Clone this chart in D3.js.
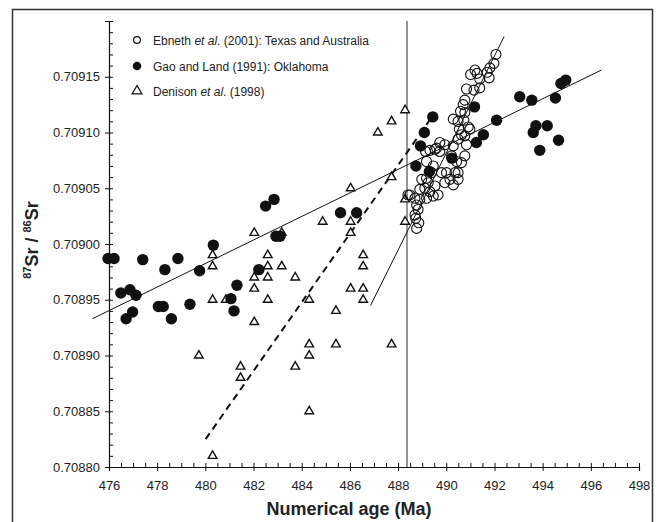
<!DOCTYPE html>
<html>
<head>
<meta charset="utf-8">
<script src="https://cdn.jsdelivr.net/npm/d3@7"></script>
<style>
  body { margin: 0; background: #fff; }
  svg text { font-family: "Liberation Sans", Arial, sans-serif; }
  .tick text { fill: #222; font-size: 13px; }
  .axis path, .axis line { stroke: #111; }
</style>
</head>
<body>
<svg id="chart" width="659" height="522"></svg>
<script>
// Ebneth et al. (2001): Texas and Australia (open circles)
var ebnethAge = [492.06, 491.98, 491.81, 491.70, 491.19, 491.28, 491.01, 491.39, 491.78, 491.39,
    491.15, 490.84, 490.70, 490.59, 490.77, 490.29, 490.73, 490.91, 490.98, 490.54,
    490.77, 490.49, 490.84, 489.73, 489.60, 490.29, 489.32, 489.14, 489.94, 490.63,
    490.22, 490.43, 490.63, 490.77, 490.36, 490.15, 489.94, 490.49, 490.29, 489.80,
    489.39, 489.18, 488.98, 489.25, 489.53, 489.32, 489.11, 488.90, 489.66, 488.49,
    488.70, 488.90, 489.18, 489.46, 488.77, 488.83, 488.70, 488.73, 488.86, 488.77,
    489.18, 489.46, 490.01, 490.49, 488.41, 489.73, 489.53, 490.77, 490.49];
var ebnethSr = [0.709170, 0.709162, 0.709158, 0.709154, 0.709156, 0.709153, 0.709152, 0.709148, 0.709149, 0.709140,
    0.709138, 0.709139, 0.709125, 0.709119, 0.709118, 0.709112, 0.709111, 0.709105, 0.709103, 0.709103,
    0.709097, 0.709094, 0.709089, 0.709091, 0.709086, 0.709088, 0.709084, 0.709083, 0.709089, 0.709098,
    0.709079, 0.709074, 0.709073, 0.709079, 0.709064, 0.709058, 0.709055, 0.709058, 0.709053, 0.709064,
    0.709064, 0.709059, 0.709058, 0.709055, 0.709052, 0.709047, 0.709050, 0.709049, 0.709044, 0.709044,
    0.709041, 0.709040, 0.709041, 0.709043, 0.709035, 0.709031, 0.709026, 0.709023, 0.709019, 0.709014,
    0.709074, 0.709070, 0.709064, 0.709064, 0.709044, 0.709083, 0.709085, 0.709129, 0.709110];

// Gao and Land (1991): Oklahoma (filled circles)
var gaoAge = [475.96, 476.21, 477.40, 478.32, 478.86, 479.76, 480.33, 476.49, 476.87, 477.12,
    476.71, 476.98, 478.05, 478.25, 478.59, 479.36, 481.31, 481.06, 481.19, 482.22,
    482.50, 482.85, 482.93, 483.10, 485.61, 486.28, 489.44, 489.09, 488.93, 488.74,
    491.17, 492.09, 491.54, 491.25, 493.05, 493.55, 494.53, 494.76, 494.96, 493.72,
    494.19, 493.61, 494.66, 493.88, 490.23, 489.30];
var gaoSr = [0.708987, 0.708987, 0.708986, 0.708977, 0.708987, 0.708976, 0.708999, 0.708956, 0.708959, 0.708954,
    0.708933, 0.708939, 0.708944, 0.708944, 0.708933, 0.708946, 0.708963, 0.708951, 0.708940, 0.708977,
    0.709034, 0.709040, 0.709007, 0.709007, 0.709028, 0.709028, 0.709114, 0.709100, 0.709088, 0.709070,
    0.709123, 0.709111, 0.709098, 0.709091, 0.709132, 0.709129, 0.709131, 0.709144, 0.709147, 0.709106,
    0.709106, 0.709100, 0.709093, 0.709084, 0.709077, 0.709065];

// Denison et al. (1998) (open triangles)
var denisonAge = [479.73, 480.30, 480.30, 480.30, 480.30, 480.85, 481.46, 481.46, 482.03, 482.03,
    482.03, 482.03, 482.59, 482.59, 482.59, 482.59, 483.17, 483.17, 483.73, 483.73,
    484.31, 484.31, 484.31, 484.31, 484.87, 485.42, 485.42, 486.03, 486.03, 486.03,
    486.03, 486.55, 486.55, 486.55, 486.55, 487.16, 487.73, 487.73, 487.73, 488.29,
    488.29, 488.29];
var denisonSr = [0.70890, 0.70899, 0.70898, 0.70895, 0.70881, 0.70895, 0.70889, 0.70888, 0.70901, 0.70897,
    0.70896, 0.70893, 0.70899, 0.70898, 0.70897, 0.70895, 0.70901, 0.70898, 0.70897, 0.70889,
    0.70895, 0.70891, 0.70890, 0.70885, 0.70902, 0.70894, 0.70891, 0.70905, 0.70902, 0.70901,
    0.70896, 0.70899, 0.70898, 0.70896, 0.70895, 0.70910, 0.70911, 0.70906, 0.70891, 0.70912,
    0.70904, 0.70902];

// regression lines (end points)
var gaoFitAge = [475.31, 496.44];
var gaoFitSr = [0.708933, 0.709156];
var ebnethFitAge = [486.86, 492.40];
var ebnethFitSr = [0.708945, 0.709186];
var denisonFitAge = [480.01, 489.44];
var denisonFitSr = [0.708825, 0.709115];
var boundaryAge = 488.37;

var xTicks = d3.range(476, 498.1, 2);
var yTicks = [0.70880, 0.70885, 0.70890, 0.70895, 0.70900, 0.70905, 0.70910, 0.70915, 0.70920];

var legendLabels = [
    ['Ebneth ', 'et al', '. (2001): Texas and Australia'],
    ['Gao and Land (1991): Oklahoma', '', ''],
    ['Denison ', 'et al', '. (1998)']
];

var svg = d3.select('#chart');
var x = d3.scaleLinear().domain([476, 498]).range([109, 639]);
var y = d3.scaleLinear().domain([0.7088, 0.7092]).range([467, 21]);

// frame
svg.append('rect')
    .attr('x', 12.5).attr('y', 9.5)
    .attr('width', 640).attr('height', 530)
    .attr('fill', 'none')
    .attr('stroke', '#333')
    .attr('stroke-width', 1.5);

// boundary
svg.append('line')
    .attr('x1', x(boundaryAge)).attr('x2', x(boundaryAge))
    .attr('y1', y(0.70920)).attr('y2', y(0.7088))
    .attr('stroke', '#7a7a7a')
    .attr('stroke-width', 1.6);

// axes
var fmt = d3.format('.5f');
svg.append('g').attr('class', 'axis')
    .attr('transform', 'translate(' + x(476) + ',0)')
    .call(d3.axisLeft(y).tickValues(yTicks).tickSize(4).tickPadding(5)
        .tickFormat(function (d) { return d > 0.709175 ? '' : fmt(d); }));
svg.append('g').attr('class', 'axis')
    .attr('transform', 'translate(' + x(476) + ',0)')
    .call(d3.axisRight(y).tickValues(d3.range(0, 41).map(function (i) { return 0.7088 + i * 0.00001; }))
        .tickSize(4).tickFormat(''))
    .select('.domain').remove();

svg.append('g').attr('class', 'axis')
    .attr('transform', 'translate(0,' + y(0.7088) + ')')
    .call(d3.axisBottom(x).tickValues(xTicks).tickSize(4).tickPadding(10).tickFormat(d3.format('d')));
svg.append('g').attr('class', 'axis')
    .attr('transform', 'translate(0,' + y(0.7088) + ')')
    .call(d3.axisTop(x).tickValues(d3.range(476, 498.01, 0.5)).tickSize(4).tickFormat(''))
    .select('.domain').remove();
svg.selectAll('.axis .domain').attr('stroke-width', 1.2);

// fit lines
var line = d3.line().x(function (d) { return x(d[0]); }).y(function (d) { return y(d[1]); });
svg.append('path')
    .attr('d', line(d3.zip(gaoFitAge, gaoFitSr)))
    .attr('stroke', '#111').attr('stroke-width', 1).attr('fill', 'none');
svg.append('path')
    .attr('d', line(d3.zip(ebnethFitAge, ebnethFitSr)))
    .attr('stroke', '#111').attr('stroke-width', 1).attr('fill', 'none');
svg.append('path')
    .attr('d', line(d3.zip(denisonFitAge, denisonFitSr)))
    .attr('stroke', '#111').attr('stroke-width', 2).attr('stroke-dasharray', '7,5').attr('fill', 'none');

// markers
var tri = d3.symbol().type(d3.symbolTriangle).size(32);
svg.append('g').selectAll('path')
    .data(d3.zip(denisonAge, denisonSr))
    .enter().append('path')
    .attr('d', tri)
    .attr('transform', function (d) { return 'translate(' + [x(d[0]), y(d[1])] + ')'; })
    .attr('fill', 'white').attr('stroke', '#111').attr('stroke-width', 1.4);

svg.append('g').selectAll('circle')
    .data(d3.zip(gaoAge, gaoSr))
    .enter().append('circle')
    .attr('cx', function (d) { return x(d[0]); })
    .attr('cy', function (d) { return y(d[1]); })
    .attr('r', 5.7)
    .attr('fill', '#111');

svg.append('g').selectAll('circle')
    .data(d3.zip(ebnethAge, ebnethSr))
    .enter().append('circle')
    .attr('cx', function (d) { return x(d[0]); })
    .attr('cy', function (d) { return y(d[1]); })
    .attr('r', 5)
    .attr('fill', 'none')
    .attr('stroke', '#111').attr('stroke-width', 1.1);

// legend
var legend = svg.append('g').attr('transform', 'translate(137,40)');
var rowY = [0, 26, 51];
legend.append('circle').attr('cx', 0).attr('cy', rowY[0]).attr('r', 3.4)
    .attr('fill', 'none').attr('stroke', '#111').attr('stroke-width', 1.2);
legend.append('circle').attr('cx', 0).attr('cy', rowY[1]).attr('r', 4.3).attr('fill', '#111');
legend.append('path').attr('d', d3.symbol().type(d3.symbolTriangle).size(40))
    .attr('transform', 'translate(0,' + rowY[2] + ')')
    .attr('fill', 'white').attr('stroke', '#111').attr('stroke-width', 1.3);
legendLabels.forEach(function (lab, i) {
    var t = legend.append('text')
        .attr('x', 16).attr('y', rowY[i] + 4.5)
        .style('font-size', '12px').style('fill', '#222');
    t.append('tspan').text(lab[0]);
    if (lab[1]) t.append('tspan').style('font-style', 'italic').text(lab[1]);
    if (lab[2]) t.append('tspan').text(lab[2]);
});

// axis titles
svg.append('text')
    .attr('x', 349).attr('y', 515)
    .attr('text-anchor', 'middle')
    .style('font-size', '18px').style('font-weight', 'bold').style('fill', '#222')
    .text('Numerical age (Ma)');

var yt = svg.append('text')
    .attr('transform', 'translate(38,240) rotate(-90)')
    .attr('text-anchor', 'middle')
    .style('font-size', '18px').style('font-weight', 'bold').style('fill', '#222');
yt.append('tspan').attr('dy', -7).style('font-size', '11px').text('87');
yt.append('tspan').attr('dy', 7).text('Sr / ');
yt.append('tspan').attr('dy', -7).style('font-size', '11px').text('86');
yt.append('tspan').attr('dy', 7).text('Sr');
</script>
</body>
</html>
